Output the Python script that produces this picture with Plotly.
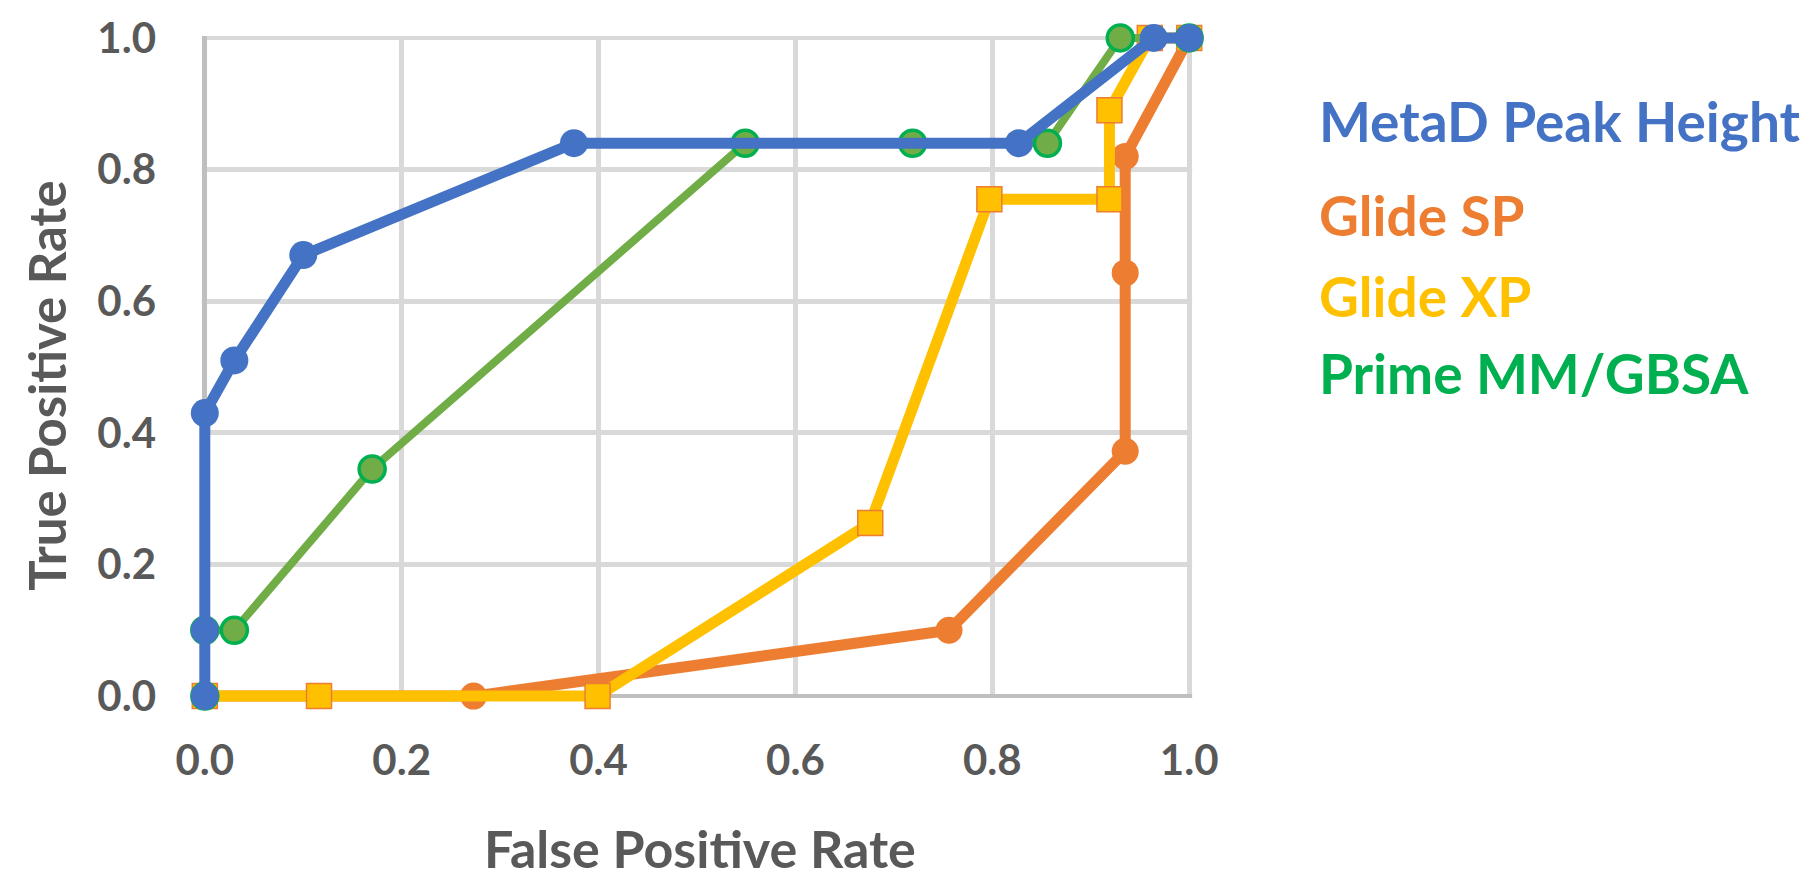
import plotly.graph_objects as go

# ---- data ----
series_names = ["MetaD Peak Height", "Glide SP", "Glide XP", "Prime MM/GBSA"]

metad_fpr = [0.0, 0.0, 0.0, 0.03, 0.10, 0.375, 0.827, 0.964, 1.0]
metad_tpr = [0.0, 0.10, 0.43, 0.51, 0.67, 0.84, 0.84, 1.0, 1.0]

sp_fpr = [0.0, 0.273, 0.756, 0.935, 0.935, 0.935, 1.0]
sp_tpr = [0.0, 0.0, 0.10, 0.372, 0.643, 0.82, 1.0]

xp_fpr = [0.0, 0.116, 0.399, 0.676, 0.797, 0.919, 0.919, 0.96, 1.0]
xp_tpr = [0.0, 0.0, 0.0, 0.263, 0.755, 0.755, 0.89, 1.0, 1.0]

prime_fpr = [0.0, 0.0, 0.03, 0.17, 0.549, 0.719, 0.856, 0.93, 1.0]
prime_tpr = [0.0, 0.10, 0.10, 0.345, 0.84, 0.84, 0.84, 1.0, 1.0]

tick_vals = [0.0, 0.2, 0.4, 0.6, 0.8, 1.0]
tick_text = ["0.0", "0.2", "0.4", "0.6", "0.8", "1.0"]
x_title = "False Positive Rate"
y_title = "True Positive Rate"

BLUE = "#4472C4"
ORANGE = "#ED7D31"
YELLOW = "#FFC000"
GREEN_LINE = "#70AD47"
GREEN_EDGE = "#00B050"
GRAY_TXT = "#595959"
FONT = "Lato"

W, H = 1812, 879
X0, X1, Y1, Y0 = 197, 1181, 30, 688   # pixel positions of data 0 and 1
PAD = 0.012                           # small range padding so thick lines are not clipped
PL = X0 - PAD * (X1 - X0)
PR = X1 + PAD * (X1 - X0)
PT = Y1 - PAD * (Y0 - Y1)
PB = Y0 + PAD * (Y0 - Y1)


def px_x(p):
    return (p - PL) / (PR - PL)


def px_y(p):
    return (PB - p) / (PB - PT)


fig = go.Figure()

fig.add_trace(go.Scatter(
    x=sp_fpr, y=sp_tpr, mode="lines+markers", name=series_names[1],
    line=dict(color=ORANGE, width=11),
    marker=dict(symbol="circle", size=27, color=ORANGE),
    cliponaxis=False, showlegend=False))

fig.add_trace(go.Scatter(
    x=xp_fpr, y=xp_tpr, mode="lines+markers", name=series_names[2],
    line=dict(color=YELLOW, width=11),
    marker=dict(symbol="square", size=25, color=YELLOW,
                line=dict(color=ORANGE, width=1.5)),
    cliponaxis=False, showlegend=False))

fig.add_trace(go.Scatter(
    x=prime_fpr, y=prime_tpr, mode="lines+markers", name=series_names[3],
    line=dict(color=GREEN_LINE, width=8),
    marker=dict(symbol="circle", size=26, color=GREEN_LINE,
                line=dict(color=GREEN_EDGE, width=3.5)),
    cliponaxis=False, showlegend=False))

fig.add_trace(go.Scatter(
    x=metad_fpr, y=metad_tpr, mode="lines+markers", name=series_names[0],
    line=dict(color=BLUE, width=11),
    marker=dict(symbol="circle", size=28, color=BLUE),
    cliponaxis=False, showlegend=False))

# white strips over the padding so gridlines end at the axes
E = 0.003
strips = [
    (-PAD, -E, -PAD, 1 + PAD),
    (1 + E, 1 + PAD, -PAD, 1 + PAD),
    (-PAD, 1 + PAD, -PAD, -E),
    (-PAD, 1 + PAD, 1 + E, 1 + PAD),
]
for x0, x1, y0, y1 in strips:
    fig.add_shape(type="rect", xref="x", yref="y", x0=x0, x1=x1, y0=y0, y1=y1,
                  fillcolor="white", line=dict(width=0), layer="between")

legend_colors = [BLUE, ORANGE, YELLOW, GREEN_EDGE]
legend_y = [113, 207, 288, 365]
for name, col, yy in zip(series_names, legend_colors, legend_y):
    fig.add_annotation(
        text="<b>%s</b>" % name, xref="paper", yref="paper",
        x=px_x(1309), y=px_y(yy),
        xanchor="left", yanchor="middle", showarrow=False,
        font=dict(family=FONT, size=55, color=col))

# axis titles
fig.add_annotation(
    text="<b>%s</b>" % y_title, xref="paper", yref="paper",
    x=px_x(38), y=px_y(378), textangle=-90,
    xanchor="center", yanchor="middle", showarrow=False,
    font=dict(family=FONT, size=51, color=GRAY_TXT))
fig.add_annotation(
    text="<b>%s</b>" % x_title, xref="paper", yref="paper",
    x=px_x(692), y=px_y(840),
    xanchor="center", yanchor="middle", showarrow=False,
    font=dict(family=FONT, size=52, color=GRAY_TXT))

axis_common = dict(
    range=[-PAD, 1 + PAD], tickvals=tick_vals,
    ticktext=["<b>%s</b>" % t for t in tick_text],
    showgrid=True, gridcolor="#D9D9D9", gridwidth=5,
    zeroline=True, zerolinecolor="#BFBFBF", zerolinewidth=5,
    showline=False, automargin=False,
    tickfont=dict(family=FONT, size=42, color=GRAY_TXT),
)

fig.update_layout(
    width=W, height=H,
    margin=dict(l=PL, r=W - PR, t=PT, b=H - PB, pad=0),
    paper_bgcolor="white", plot_bgcolor="white",
    xaxis=dict(**axis_common, ticklabelstandoff=28),
    yaxis=dict(**axis_common, ticklabelstandoff=36),
)

fig.write_html("out.html")
